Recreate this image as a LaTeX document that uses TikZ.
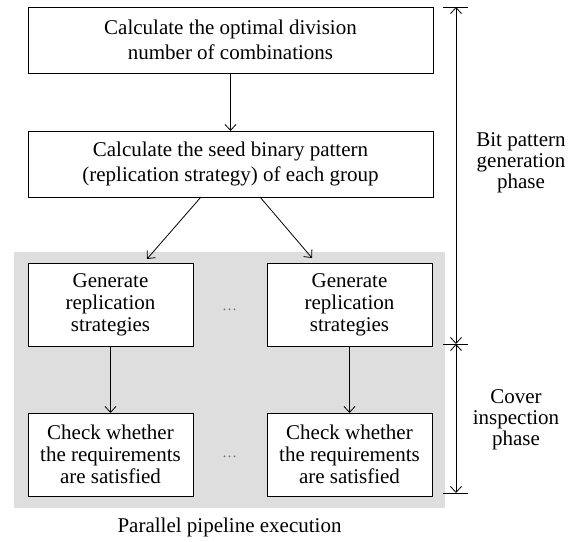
\documentclass[tikz,border=0pt]{standalone}
\usepackage{fontspec}
\setmainfont{Liberation Serif}
\usetikzlibrary{arrows.meta,calc}
\definecolor{panelgray}{RGB}{222,222,222}
\definecolor{dotgray}{RGB}{110,110,110}
\begin{document}
\begin{tikzpicture}[x=1pt,y=-1pt,
  every node/.style={inner sep=0pt, outer sep=0pt},
  flowbox/.style={draw, line width=0.9pt, fill=white, align=center},
  widebox/.style={flowbox, minimum width=405pt, minimum height=66pt,
    font=\fontsize{21}{25.5}\selectfont},
  stagebox/.style={flowbox, minimum width=165pt, minimum height=83pt,
    font=\fontsize{21}{22}\selectfont},
  tip/.tip={Straight Barb[length=6pt,width=11pt]},
  flow/.style={line width=0.8pt, -tip},
  span/.style={line width=0.8pt, tip-tip},
  tick/.style={line width=0.8pt},
  phase/.style={align=center, font=\fontsize{21}{21}\selectfont},
  ellipsis/.style={text=dotgray, font=\fontsize{15}{15}\selectfont},
  caption/.style={font=\fontsize{21}{21}\selectfont}
]
\useasboundingbox (0,0) rectangle (573,541);

% shaded area holding the parallel pipelines
\node[fill=panelgray, minimum width=431pt, minimum height=256pt] (panel) at (229.5,380) {};

% sequential steps
\node[widebox] (top)  at (230.5,40)  {Calculate the optimal division\\number of combinations};
\node[widebox] (seed) at (230.5,164) {Calculate the seed binary pattern\\(replication strategy) of each group};

% parallel pipelines
\node[stagebox] (genL) at (110.5,304.5) {Generate\\replication\\strategies};
\node[stagebox] (genR) at (349.5,304.5) {Generate\\replication\\strategies};
\node[stagebox] (chkL) at (110.5,454.5) {Check whether\\the requirements\\are satisfied};
\node[stagebox] (chkR) at (349.5,454.5) {Check whether\\the requirements\\are satisfied};
\node[ellipsis] (dotsA) at (229.5,310) {…};
\node[ellipsis] (dotsB) at (229.5,457) {…};

% connectors
\draw[flow] (top.south) -- (seed.south |- seed.north);
\draw[flow] ($(seed.south)+(-29.5,0)$) -- ($(genL.north)+(36.5,-4)$);
\draw[flow] ($(seed.south)+(29.5,0)$) -- ($(genR.north)+(-37.5,-5)$);
\draw[flow] (genL.south) -- (chkL.north);
\draw[flow] (genR.south) -- (chkR.north);

% phase brackets
\coordinate (bTop) at (456,7);
\coordinate (bMid) at (456,344);
\coordinate (bBot) at (456,493);
\draw[span] (bTop) -- (bMid);
\draw[span] (bMid) -- (bBot);
\foreach \c in {bTop,bMid,bBot}
  \draw[tick] ($(\c)+(-13,0)$) -- ($(\c)+(12,0)$);

\node[phase] (genPhase) at (521,163) {Bit pattern\\generation\\phase};
\node[phase] (covPhase) at (516,420) {Cover\\inspection\\phase};

\node[caption] (cap) at (229.5,527) {Parallel pipeline execution};
\end{tikzpicture}
\end{document}
